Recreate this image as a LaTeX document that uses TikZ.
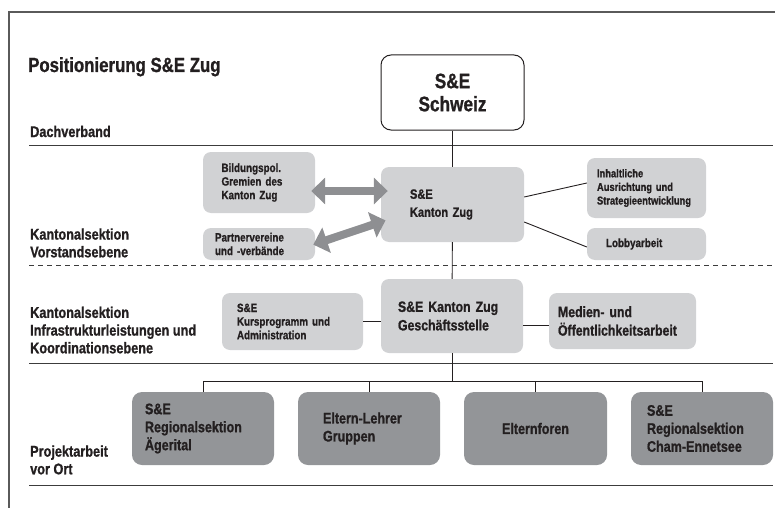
\documentclass[tikz,border=0pt]{standalone}
\usepackage{fontspec}
\setmainfont{Liberation Sans}[FakeStretch=0.82, BoldFont={* Bold}, BoldFeatures={FakeBold=1.0}]
\usetikzlibrary{positioning,calc,arrows.meta}
\definecolor{boxlight}{HTML}{D1D2D4}
\definecolor{boxdark}{HTML}{939598}
\definecolor{arrowgrey}{HTML}{8E8F92}
\definecolor{inkgrey}{HTML}{231F20}
\definecolor{rulegrey}{HTML}{3C3C3C}
\definecolor{framegrey}{HTML}{5A5A5A}
\tikzset{
	lightbox/.style={rounded corners=8pt, fill=boxlight, align=left, inner ysep=0pt},
	darkbox/.style={rounded corners=10pt, fill=boxdark, align=left, minimum height=73pt, inner ysep=0pt, font=\bfseries\fontsize{15.3}{18}\selectfont},
	smalltext/.style={font=\bfseries\fontsize{12}{13.6}\selectfont},
	midtext/.style={font=\bfseries\fontsize{15}{18.5}\selectfont},
	leveltext/.style={anchor=base west, align=left, inner sep=0pt, font=\bfseries\fontsize{15.5}{17.7}\selectfont},
	fatarrow/.style={line width=8pt, arrowgrey, {Triangle[width=26pt,length=14pt]}-{Triangle[width=26pt,length=14pt]}},
	linkline/.style={draw=inkgrey, line width=0.9pt},
}

\begin{document}
\begin{tikzpicture}[x=1pt, y=-1pt]
	\useasboundingbox (0,0) rectangle (775,508);
	\draw [framegrey, line width=1.4pt] (775,12) -- (9,12) -- (9,508);
	\draw [rulegrey, line width=1pt] (29,145) -- (773,145);
	\draw [rulegrey, line width=1pt, dash pattern=on 5pt off 4pt] (29,265) -- (773,265);
	\draw [rulegrey, line width=1pt] (29,363) -- (773,363);
	\draw [rulegrey, line width=1pt] (29,485) -- (773,485);

	\begin{scope}
		\tikzstyle{every node}=[text=inkgrey]
		\node [leveltext, font=\bfseries\fontsize{20.5}{24}\selectfont] (titel) at (28, 72) {Positionierung S\&E Zug};
		\node [leveltext] (dach) at (30, 137) {Dachverband};
		\node [leveltext] (vorstand) at (30, 257.3) {Kantonalsektion\\Vorstandsebene};
		\node [leveltext] (infra) at (30, 353.3) {Kantonalsektion\\Infrastrukturleistungen und\\Koordinationsebene};
		\node [leveltext] (projekt) at (30, 474.3) {Projektarbeit\\vor Ort};

		\node [draw=inkgrey, line width=1pt, fill=white, rounded corners=10pt, align=center, minimum width=143pt, minimum height=75pt, font=\bfseries\fontsize{21}{23}\selectfont] (schweiz) at (452.5, 92.5) {S\&E\\Schweiz};

		\node [lightbox, minimum height=75pt, text width=85pt, inner xsep=29pt, font=\bfseries\fontsize{13.5}{18}\selectfont] (kzug) at (452.5, 204.5) {S\&E\\Kanton Zug};
		\node [lightbox, smalltext, minimum height=61pt, text width=75pt, inner xsep=18.5pt] (bild) at (259, 182.5) {Bildungspol.\\Gremien des\\Kanton Zug};
		\node [lightbox, smalltext, minimum height=32pt, text width=88pt, inner xsep=12pt] (partner) at (259, 244) {Partnervereine\\und -verbände};
		\node [lightbox, smalltext, minimum height=60pt, text width=99pt, inner xsep=10pt, font=\bfseries\fontsize{11.4}{13.6}\selectfont] (inh) at (646.5, 188) {Inhaltliche\\Ausrichtung und\\Strategieentwicklung};
		\node [lightbox, smalltext, minimum height=32pt, text width=81pt, inner xsep=19pt] (lobby) at (646.5, 244) {Lobbyarbeit};

		\node [lightbox, midtext, minimum height=74pt, text width=108pt, inner xsep=17pt] (gs) at (452, 316) {S\&E Kanton Zug\\Geschäftsstelle};
		\node [lightbox, midtext, minimum height=56pt, text width=129pt, inner xsep=9pt] (medien) at (622.5, 321) {Medien- und\\Öffentlichkeitsarbeit};
		\node [lightbox, smalltext, minimum height=57pt, text width=111pt, inner xsep=15pt] (kurs) at (292.5, 321.5) {S\&E\\Kursprogramm und\\Administration};

		\node [darkbox, text width=116pt, inner xsep=13pt] (b1) at (203, 428.5) {S\&E\\Regionalsektion\\Ägerital};
		\node [darkbox, text width=92pt, inner xsep=25pt] (b2) at (369, 428.5) {Eltern-Lehrer\\Gruppen};
		\node [darkbox, text width=117pt, inner xsep=13pt, align=center] (b3) at (535.5, 428.5) {Elternforen};
		\node [darkbox, text width=110pt, inner xsep=16pt] (b4) at (702, 428.5) {S\&E\\Regionalsektion\\Cham-Ennetsee};
	\end{scope}

	\coordinate (bus) at (452, 381);

	\draw [linkline] (schweiz) to (kzug);
	\draw [linkline] (kzug) to (gs);
	\draw [linkline] (gs.south) to (bus);
	\foreach \b in {b1,b2,b3,b4}
		\draw [linkline] (\b.north) |- (bus);
	\draw [linkline] (kzug.east |- 0,197) to (inh.west |- 0,183);
	\draw [linkline] (kzug.east |- 0,222) to (lobby.west |- 0,247);
	\draw [linkline] (kurs.east) to (kurs.east -| gs.west);
	\draw [linkline] (gs.east |- 0,325) to (medien.west |- 0,325);

	\draw [fatarrow, shorten <=-4pt, shorten >=-7pt] (bild.east |- 0,191) to (kzug.west |- 0,191);
	\draw [fatarrow, shorten <=-2pt, shorten >=-5pt] (partner.east) to (kzug.west |- 0,222);
\end{tikzpicture}
\end{document}
